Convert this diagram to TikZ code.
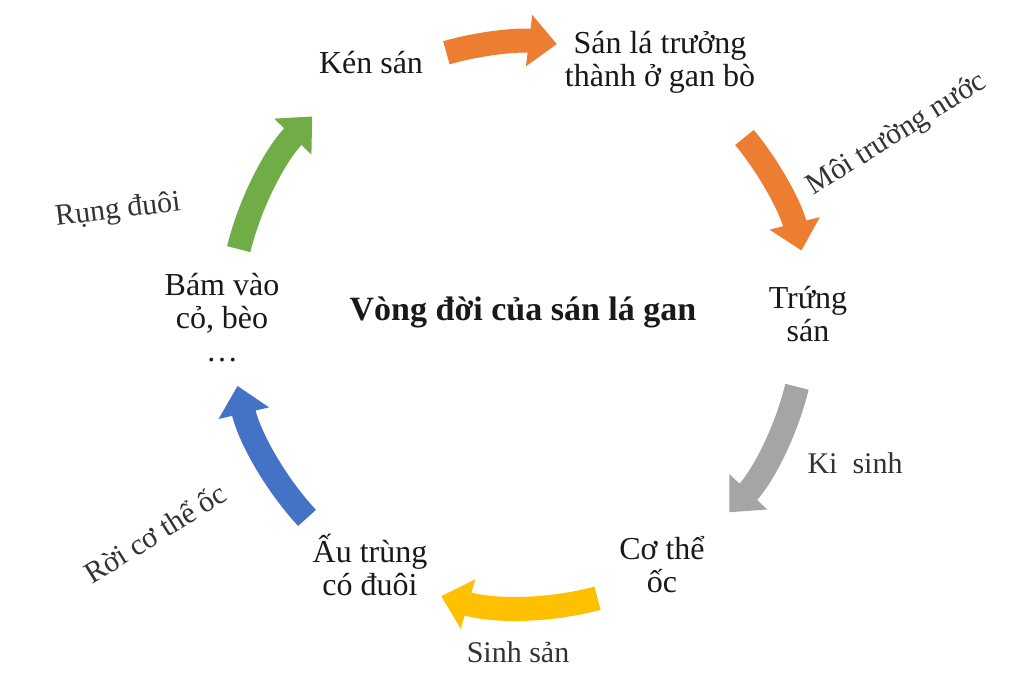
\documentclass[tikz,border=0pt]{standalone}
\usepackage{fontspec}
\setmainfont{Liberation Serif}
\usetikzlibrary{arrows.meta}
\definecolor{corange}{HTML}{ED7D31}
\definecolor{cgray}{HTML}{A5A5A5}
\definecolor{cyellow}{HTML}{FFC000}
\definecolor{cblue}{HTML}{4472C4}
\definecolor{cgreen}{HTML}{70AD47}
\begin{document}
\begin{tikzpicture}[x=1pt,y=1pt,
  stage/.style={align=center, font=\fontsize{32}{33}\selectfont, inner sep=0pt, text=black!90},
  lab/.style={font=\fontsize{30}{32}\selectfont, inner sep=0pt, text=black!80},
  cyc/.style={line width=24pt, -{Triangle[length=28pt,width=50pt]}}]
\useasboundingbox[fill=white] (0,0) rectangle (1024,692);
\coordinate (o) at (523,372);
% stages
\node[stage] (ken) at (371,629) {Kén sán};
\node[stage] (sanla) at (660,630) {Sán lá trưởng\\thành ở gan bò};
\node[stage] (trung) at (808,378) {Trứng\\sán};
\node[stage] (oc) at (662,127) {Cơ thể\\ốc};
\node[stage] (au) at (370,127) {Ấu trùng\\có đuôi};
\node[stage] (bam) at (222,374) {Bám vào\\cỏ, bèo\\…};
\node[font=\bfseries\fontsize{34}{36}\selectfont, inner sep=0pt, text=black!90] (title) at (523,380) {Vòng đời của sán lá gan};
% labels
\node[lab, rotate=32] (l1) at (897,557) {Môi trường nước};
\node[lab] (l2) at (855,229) {Ki~ sinh};
\node[lab] (l3) at (518,40) {Sinh sản};
\node[lab, rotate=32] (l4) at (155,159) {Rời cơ thể ốc};
\node[lab, rotate=7] (l5) at (118,481) {Rụng đuôi};
% arrows
\draw[cyc, corange] ([shift={(106:278)}]o) arc[start angle=106, end angle=83, radius=278];
\draw[cyc, corange] ([shift={(39.5:287)}]o) arc[start angle=39.5, end angle=14, radius=287];
\draw[cyc, cgray] ([shift={(-13.7:282)}]o) arc[start angle=-13.7, end angle=-43, radius=282];
\draw[cyc, cyellow] ([shift={(-75:288)}]o) arc[start angle=-75, end angle=-106.5, radius=288];
\draw[cyc, cblue] ([shift={(-137.5:293)}]o) arc[start angle=-137.5, end angle=-167, radius=293];
\draw[cyc, cgreen] ([shift={(166:293)}]o) arc[start angle=166, end angle=136, radius=293];
\end{tikzpicture}
\end{document}
